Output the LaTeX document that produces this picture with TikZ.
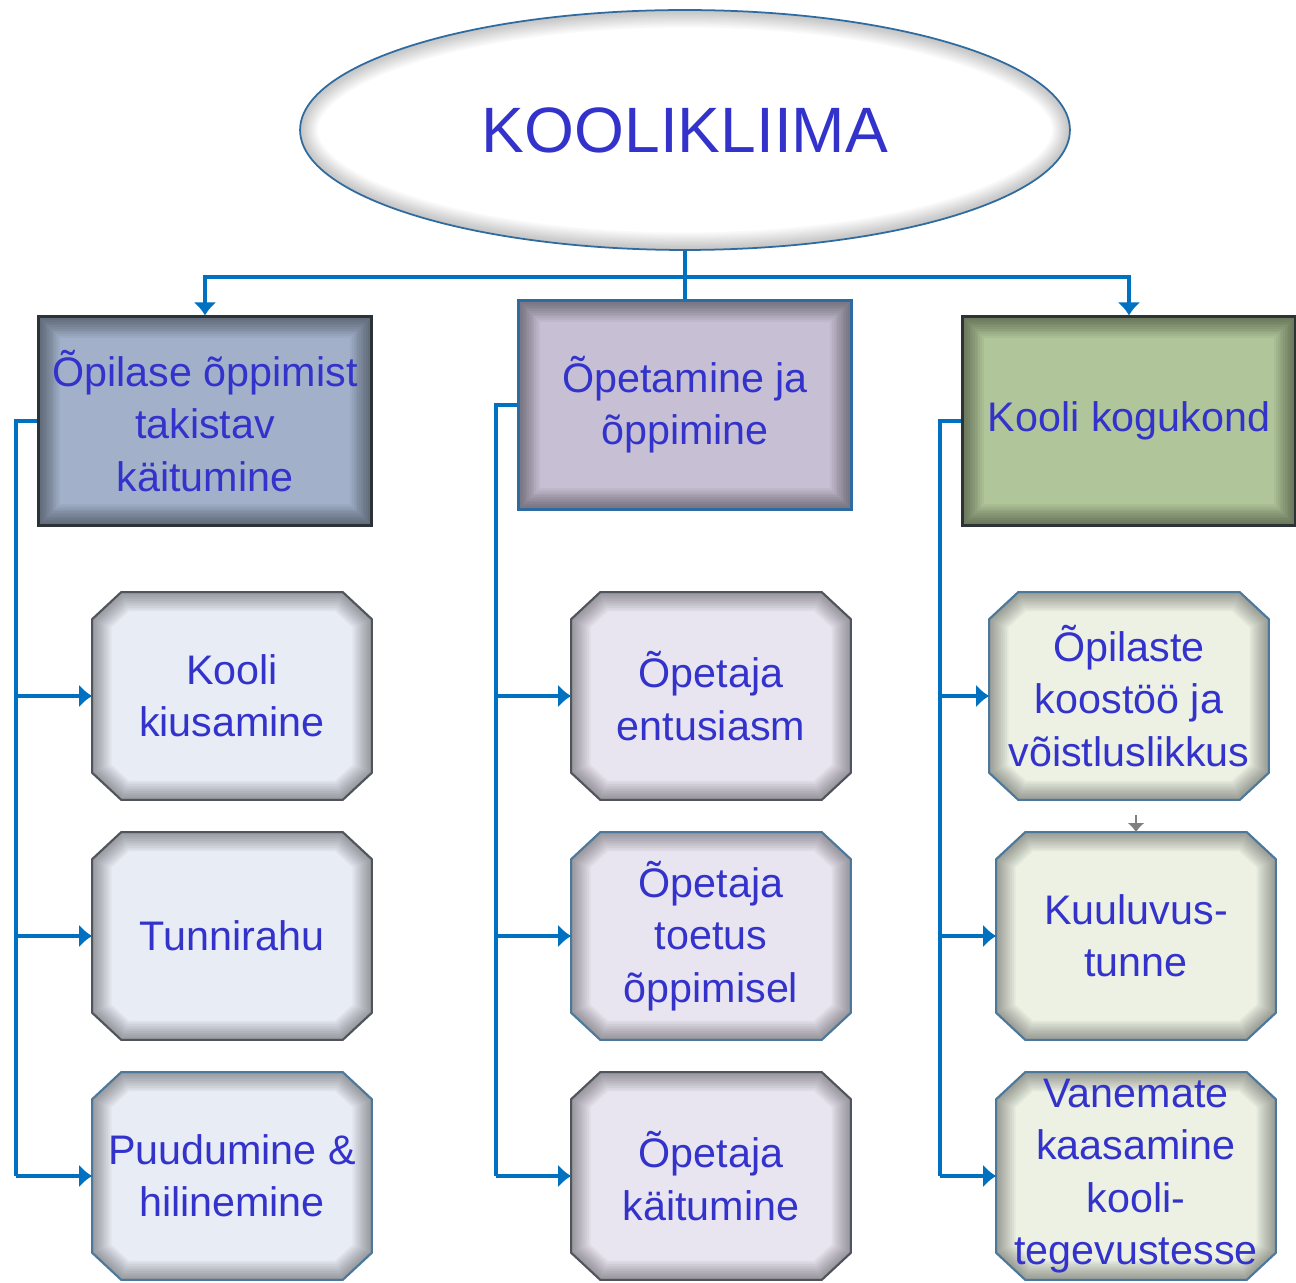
\documentclass[tikz,border=0pt]{standalone}
\usepackage{fontspec}
\setmainfont{Liberation Sans}
\usepackage{tikz}
\usetikzlibrary{calc, shapes.geometric, arrows.meta}
\tikzset{>={Latex[length=2.6mm,width=4.6mm]}}
\pgfdeclarelayer{back}
\pgfsetlayers{back,main}
\definecolor{txtblue}{RGB}{51, 51, 204}
\definecolor{connblue}{RGB}{0, 112, 192}
\definecolor{headblue}{RGB}{162, 177, 201}
\definecolor{headviolet}{RGB}{199, 192, 212}
\definecolor{headgreen}{RGB}{176, 197, 154}
\definecolor{kidblue}{RGB}{232, 236, 244}
\definecolor{kidviolet}{RGB}{233, 229, 240}
\definecolor{kidgreen}{RGB}{236, 241, 228}
\definecolor{edgedark}{RGB}{45, 50, 55}
\definecolor{edgeblue}{RGB}{46, 107, 160}
\definecolor{edgegray}{RGB}{80, 84, 92}
\definecolor{edgesteel}{RGB}{75, 120, 155}
% chamfered outline round a kid node
\newcommand{\octo}[1]{%
  ($(#1.south west)+(0.58cm,0cm)$) -- ($(#1.south east)+(-0.58cm,0cm)$)
  -- ($(#1.south east)+(0cm,0.54cm)$) -- ($(#1.north east)+(0cm,-0.54cm)$)
  -- ($(#1.north east)+(-0.58cm,0cm)$) -- ($(#1.north west)+(0.58cm,0cm)$)
  -- ($(#1.north west)+(0cm,-0.54cm)$) -- ($(#1.south west)+(0cm,0.54cm)$) -- cycle}

\begin{document}
\begin{tikzpicture}[
    x = 0.02cm, y = -0.02cm,
    txt/.style = {text = txtblue, align = center, font = \fontsize{23.5}{29.7}\selectfont},
    conn/.style = {draw = connblue, line width = 2.2pt},
    ell/.style = {ellipse, draw = edgeblue, line width = 1pt, fill = white,
        minimum width = 15.4cm, minimum height = 4.8cm, text = txtblue,
        font = \fontsize{36.5}{40}\selectfont,
        path picture = {\foreach \w in {2,4,...,20}
            \draw[black, opacity = 0.025, line width = \w pt] (path picture bounding box.center)
                ellipse [x radius = 7.7cm, y radius = 2.4cm];}},
    head/.style = {txt, rectangle, line width = 1.2pt, inner sep = 0pt,
        minimum width = 6.66cm, minimum height = 4.18cm,
        path picture = {\foreach \w in {2,4,...,24}
            \draw[black, opacity = 0.04, line width = \w pt] (path picture bounding box.south west)
                rectangle (path picture bounding box.north east);}},
    kid/.style = {txt, rectangle, inner sep = 0pt,
        minimum width = 5.58cm, minimum height = 4.14cm},
    kidframe/.style = {line width = 1.2pt}
]
\useasboundingbox (0,0) rectangle (1296,1283);

% top
\node[ell] (klima) at (685,130) {KOOLIKLIIMA};

% three headings
\node[head, fill = headblue, draw = edgedark] (opil) at (205,421) {Õpilase õppimist\\takistav\\käitumine};
\node[head, fill = headviolet, draw = edgeblue] (opet) at (685,405) {Õpetamine ja\\õppimine};
\node[head, fill = headgreen, draw = edgedark] (kogu) at (1129,421) {Kooli kogukond};

% left column
\node[kid] (kius) at (232,696) {Kooli\\kiusamine};
\node[kid] (tunni) at (232,936) {Tunnirahu};
\node[kid] (puud) at (232,1176) {Puudumine \&\\hilinemine};

% middle column
\node[kid] (entu) at (711,696) {Õpetaja\\entusiasm};
\node[kid] (toet) at (711,936) {Õpetaja\\toetus\\õppimisel};
\node[kid] (kait) at (711,1176) {Õpetaja\\käitumine};

% right column
\node[kid] (koos) at (1129,696) {Õpilaste\\koostöö ja\\võistluslikkus};
\node[kid] (kuul) at (1136,936) {Kuuluvus-\\tunne};
\node[kid] (vane) at (1136,1176) {Vanemate\\kaasamine\\kooli-\\tegevustesse};

% chamfered frames behind the kid texts
\begin{pgfonlayer}{back}
\foreach \k/\f/\e in {kius/kidblue/edgegray, tunni/kidblue/edgegray, puud/kidblue/edgesteel,
    entu/kidviolet/edgegray, toet/kidviolet/edgesteel, kait/kidviolet/edgegray,
    koos/kidgreen/edgesteel, kuul/kidgreen/edgesteel, vane/kidgreen/edgesteel}{
  \fill[\f] \octo{\k};
  \begin{scope}
    \clip \octo{\k};
    \foreach \w in {2,4,...,22}
      \draw[black, opacity = 0.035, line width = \w pt] \octo{\k};
  \end{scope}
  \draw[kidframe, draw = \e] \octo{\k};
}
\end{pgfonlayer}

% connectors
\coordinate (jn) at (685,277);
\draw[conn] (klima.south) -- (jn);
\draw[conn, ->] (jn) -| (opil.north);
\draw[conn, ->] (jn) -| (kogu.north);
\draw[conn] (jn) -- (opet.north);

\coordinate (lbus) at (16,421);
\coordinate (mbus) at (496,405);
\coordinate (rbus) at (940,421);
\draw[conn] (opil.west) -- (lbus) -- (lbus |- puud.west);
\draw[conn] (opet.west) -- (mbus) -- (mbus |- kait.west);
\draw[conn] (kogu.west) -- (rbus) -- (rbus |- vane.west);
\foreach \b/\k in {lbus/kius, lbus/tunni, lbus/puud, mbus/entu, mbus/toet, mbus/kait,
    rbus/koos, rbus/kuul, rbus/vane}
  \draw[conn, ->] (\b |- \k.west) -- (\k.west);

\coordinate (gtop) at (1136,815);
\draw[draw = gray, line width = 1.4pt, -{Latex[length=1.8mm,width=3.4mm]}] (gtop) -- (kuul.north);

\end{tikzpicture}
\end{document}
